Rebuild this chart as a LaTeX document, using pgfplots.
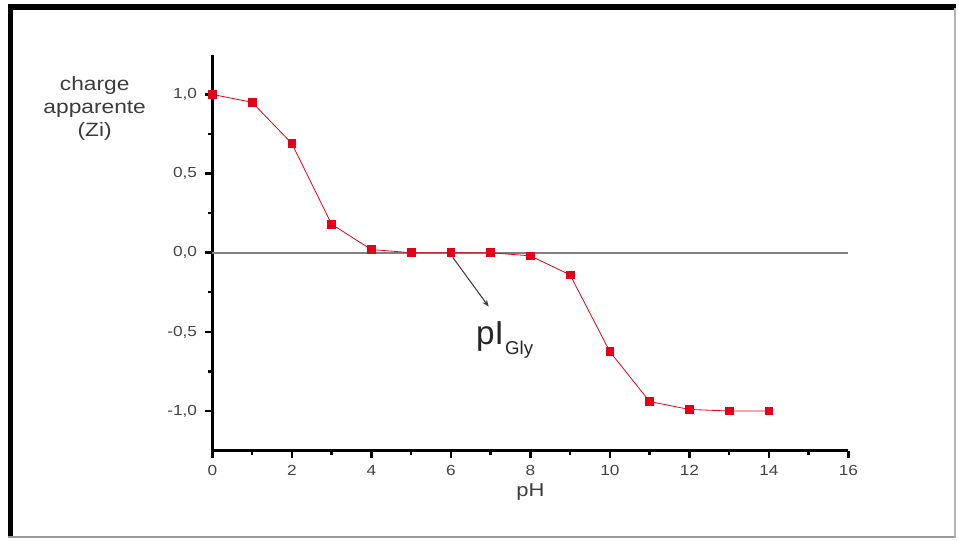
\documentclass[border=0pt]{standalone}
\usepackage{fontspec}
\usepackage{pgfplots}
\pgfplotsset{compat=1.18}
\usetikzlibrary{arrows.meta}
\setmainfont{Liberation Sans}
\newfontfamily\lab[FakeStretch=1.18]{Liberation Sans}
\definecolor{txt}{HTML}{3C3C3C}
\definecolor{tick}{HTML}{444444}
\definecolor{rd}{RGB}{228,0,24}
\begin{document}
\begin{tikzpicture}
\fill[white] (0,0) rectangle (719.25pt,405pt);
% frame
\draw[black, line width=4.5pt] (6pt,399.75pt) -- (719.25pt,399.75pt);
\draw[black, line width=3.75pt] (7.875pt,0pt) -- (7.875pt,402pt);
\draw[gray!80, line width=1.1pt] (6pt,1.0pt) -- (719.25pt,1.0pt);
\draw[gray!60, line width=1pt] (718.5pt,0pt) -- (718.5pt,399pt);
\begin{axis}[
  at={(159.75pt,66pt)}, anchor=south west,
  scale only axis, width=478.5pt, height=297.75pt,
  xmin=0, xmax=16, ymin=-1.25, ymax=1.25,
  axis x line*=bottom, axis y line*=left,
  every outer x axis line/.append style={-, line width=2.4pt, black},
  every outer y axis line/.append style={-, line width=2.4pt, black},
  xtick={0,2,...,16}, minor x tick num=1,
  ytick={-1,-0.5,0,0.5,1}, minor y tick num=1,
  tick align=outside,
  major tick length=5.5pt, minor tick length=3pt,
  major tick style={black, line width=2pt},
  minor tick style={black, line width=1.7pt},
  /pgf/number format/assume math mode=true,
  yticklabel style={/pgf/number format/fixed, /pgf/number format/fixed zerofill, /pgf/number format/precision=1, /pgf/number format/use comma, xshift=-2.5pt},
  xticklabel style={yshift=-2pt},
  tick label style={font=\lab\fontsize{11}{12}\selectfont, text=tick},
  xlabel={pH},
  xlabel style={font=\lab\fontsize{14}{16}\selectfont, text=txt, at={(axis description cs:0.5,0)}, anchor=center, yshift=-31.5pt},
  ylabel={charge\\apparente\\(Zi)},
  ylabel style={font=\lab\fontsize{14.5}{17.2}\selectfont, text=txt, align=center, rotate=-90, at={(axis description cs:-0.185,0.865)}, anchor=center},
  clip=false,
]
\addplot[gray, line width=1.5pt, forget plot] coordinates {(0,0) (16,0)};
\addplot[rd, line width=0.6pt, mark=square*, mark size=2.9pt, mark options={solid, fill=rd, draw=rd}] coordinates {
 (0,1.0) (1,0.95) (2,0.69) (3,0.18) (4,0.02) (5,0.0) (6,0.0) (7,0.0)
 (8,-0.02) (9,-0.14) (10,-0.625) (11,-0.94) (12,-0.99) (13,-1.0) (14,-1.0)};
\draw[-{Stealth[length=5pt,width=4pt]}, black!75, line width=0.8pt] (axis cs:6.05,-0.03) -- (axis cs:6.95,-0.34);
\node[anchor=base west, inner sep=0pt, text=black!85] at (axis cs:6.63,-0.579)
  {\fontsize{25}{25}\selectfont pI\hspace{1pt}\raisebox{-7.5pt}{\fontsize{14}{14}\selectfont Gly}};
\end{axis}
\end{tikzpicture}
\end{document}
